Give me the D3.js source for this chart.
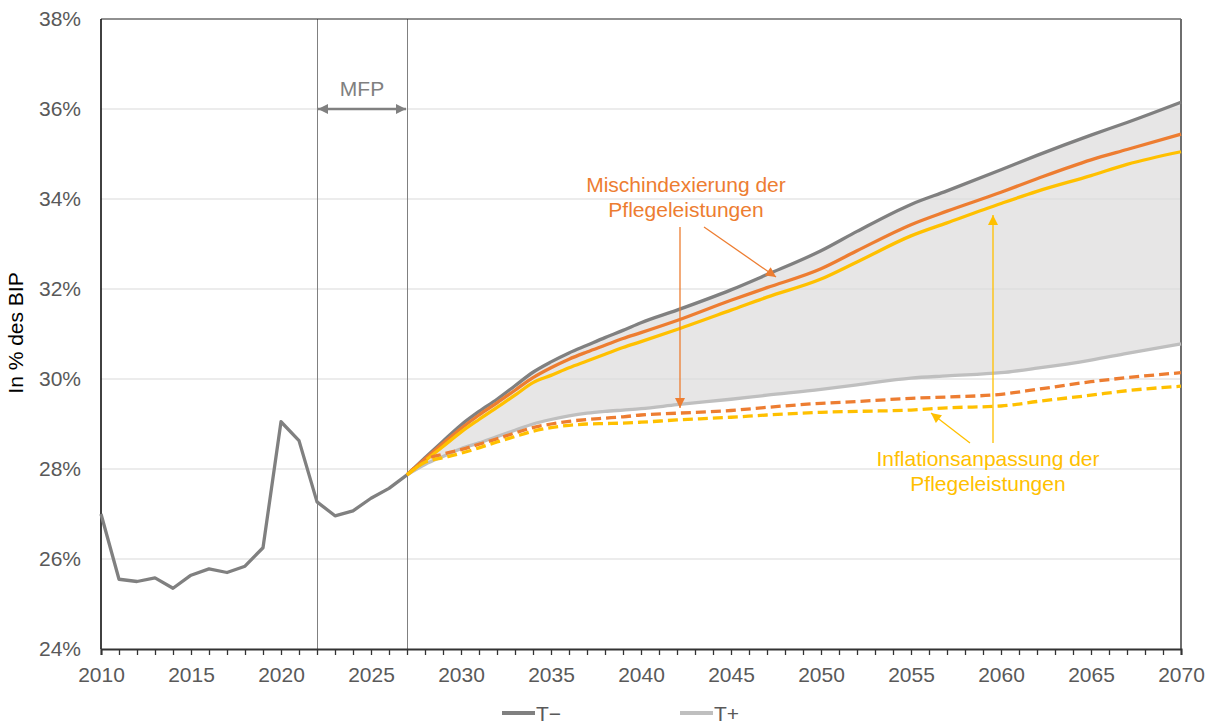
<!DOCTYPE html>
<html><head><meta charset="utf-8">
<script src="https://cdn.jsdelivr.net/npm/d3@7"></script>
<style>
html,body{margin:0;padding:0;background:#fff;}
svg{display:block;font-family:"Liberation Sans",Arial,sans-serif;}
</style></head>
<body><svg id="c" width="1214" height="724"></svg>
<script>
// ---- data ----
const histYears = [2010,2011,2012,2013,2014,2015,2016,2017,2018,2019,2020,2021,2022,2023,2024,2025,2026,2027];
const histValues = [27.0,25.55,25.5,25.58,25.35,25.64,25.78,25.7,25.84,26.25,29.05,28.63,27.27,26.96,27.07,27.35,27.57,27.87];

const projYears = [2027,2028,2029,2030,2031,2032,2033,2034,2035,2036,2037,2038,2039,2040,2042,2045,2047,2050,2052,2055,2057,2060,2062,2065,2067,2070];
const tMinus    = [27.87,28.25,28.62,28.98,29.28,29.55,29.85,30.15,30.38,30.58,30.75,30.92,31.08,31.25,31.53,31.98,32.32,32.85,33.28,33.88,34.18,34.65,34.97,35.42,35.7,36.15];
const tPlus     = [27.87,28.1,28.28,28.45,28.58,28.72,28.86,29.0,29.1,29.18,29.24,29.28,29.31,29.34,29.43,29.55,29.64,29.77,29.87,30.02,30.07,30.14,30.24,30.42,30.57,30.78];
const mixSolid  = [27.87,28.22,28.57,28.9,29.2,29.47,29.75,30.03,30.25,30.44,30.6,30.75,30.9,31.03,31.3,31.75,32.03,32.45,32.85,33.43,33.73,34.15,34.45,34.87,35.1,35.44];
const inflSolid = [27.87,28.18,28.5,28.82,29.1,29.37,29.64,29.92,30.08,30.25,30.4,30.55,30.7,30.83,31.1,31.53,31.82,32.22,32.6,33.18,33.47,33.9,34.17,34.52,34.77,35.05];
const mixDash   = [27.87,28.2,28.33,28.43,28.55,28.67,28.8,28.92,29.0,29.06,29.1,29.13,29.16,29.2,29.24,29.3,29.37,29.46,29.5,29.57,29.6,29.66,29.77,29.94,30.03,30.14];
const inflDash  = [27.87,28.15,28.25,28.35,28.47,28.6,28.72,28.84,28.92,28.97,29.0,29.01,29.02,29.04,29.09,29.15,29.2,29.26,29.28,29.31,29.36,29.4,29.5,29.64,29.74,29.84];

const yTicks = [24,26,28,30,32,34,36,38];
const xLabelYears = [2010,2015,2020,2025,2030,2035,2040,2045,2050,2055,2060,2065,2070];
const mfpYears = [2022,2027];
const legendItems = ["T\u2212","T+"];
const yTitle = "In % des BIP";
const annoMix = ["Mischindexierung der","Pflegeleistungen"];
const annoInfl = ["Inflationsanpassung der","Pflegeleistungen"];

// ---- chart ----
const svg = d3.select("#c");
const x = d3.scaleLinear().domain([2010,2070]).range([101,1181]);
const y = d3.scaleLinear().domain([24,38]).range([649,19]);
const C = {dark:"#808080", light:"#bfbfbf", orange:"#ed7d31", yellow:"#ffc000", fill:"#e7e6e6", grid:"#d9d9d9", text:"#595959"};
const FS = 21;

const defs = svg.append("defs");
function marker(id,color,w,h){
  defs.append("marker").attr("id",id).attr("viewBox","0 0 10 10").attr("refX",10).attr("refY",5)
    .attr("markerWidth",w).attr("markerHeight",h).attr("markerUnits","userSpaceOnUse").attr("orient","auto-start-reverse")
    .append("path").attr("d","M0,0L10,5L0,10Z").attr("fill",color);
}
marker("mg",C.dark,10,10);
marker("mo",C.orange,11,10);
marker("my",C.yellow,11,10);

// band fill
const band = projYears.map((yr,i)=>({yr,hi:tMinus[i],lo:tPlus[i]}));
svg.append("path").datum(band)
  .attr("d",d3.area().x(d=>x(d.yr)).y0(d=>y(d.lo)).y1(d=>y(d.hi)).curve(d3.curveMonotoneX))
  .attr("fill",C.fill);

// grid
svg.append("g").selectAll("line").data(yTicks.slice(1,-1)).join("line")
  .attr("x1",x(2010)).attr("x2",x(2070)).attr("y1",d=>y(d)).attr("y2",d=>y(d))
  .attr("stroke",C.grid).attr("stroke-width",1.2);

// MFP vertical lines
svg.append("g").selectAll("line").data(mfpYears).join("line")
  .attr("x1",d=>Math.round(x(d))+0.5).attr("x2",d=>Math.round(x(d))+0.5).attr("y1",y(38)).attr("y2",y(24))
  .attr("stroke",C.dark).attr("stroke-width",1);

// frame
svg.append("line").attr("x1",x(2010)).attr("x2",x(2070)).attr("y1",y(38)).attr("y2",y(38)).attr("stroke","#222").attr("stroke-width",1.2);
svg.append("line").attr("x1",x(2070)).attr("x2",x(2070)).attr("y1",y(38)).attr("y2",y(24)).attr("stroke","#6e6e6e").attr("stroke-width",2);
svg.append("line").attr("x1",x(2010)).attr("x2",x(2010)).attr("y1",y(38)).attr("y2",y(24)).attr("stroke","#111").attr("stroke-width",1.6);

// x axis
const xAxis = d3.axisBottom(x).tickValues(d3.range(2010,2071)).tickSize(6).tickPadding(12)
  .tickFormat(d=>xLabelYears.includes(d)?String(d):"");
const gx = svg.append("g").attr("transform",`translate(0,${y(24)})`).call(xAxis);
gx.select(".domain").attr("stroke","#333").attr("stroke-width",2);
gx.selectAll(".tick line").attr("stroke","#333").attr("stroke-width",1.3);
gx.selectAll(".tick text").attr("fill",C.text).attr("font-size",FS).attr("font-family","Liberation Sans, Arial, sans-serif");

// y labels
const yAxis = d3.axisLeft(y).tickValues(yTicks).tickSize(0).tickPadding(20).tickFormat(d=>d+"%");
const gy = svg.append("g").attr("transform",`translate(${x(2010)},0)`).call(yAxis);
gy.select(".domain").remove();
gy.selectAll(".tick text").attr("fill",C.text).attr("font-size",FS).attr("font-family","Liberation Sans, Arial, sans-serif");

// y title
svg.append("text").attr("transform",`translate(23,${333}) rotate(-90)`).attr("text-anchor","middle")
  .attr("font-size",FS).attr("fill","#000").text(yTitle);

// lines
const line = d3.line().x(d=>x(d[0])).y(d=>y(d[1]));
const smooth = d3.line().x(d=>x(d[0])).y(d=>y(d[1])).curve(d3.curveMonotoneX);
const zipP = arr => projYears.map((yr,i)=>[yr,arr[i]]);
const histPts = histYears.map((yr,i)=>[yr,histValues[i]]);
function draw(pts,color,dash,gen){
  svg.append("path").datum(pts).attr("d",gen||smooth).attr("fill","none").attr("stroke",color)
    .attr("stroke-width",3.3).attr("stroke-linejoin","round").attr("stroke-dasharray",dash||null);
}
draw(histPts,C.dark,null,line);
draw(zipP(tMinus),C.dark);
draw(zipP(tPlus),C.light);
draw(zipP(mixSolid),C.orange);
draw(zipP(inflSolid),C.yellow);
draw(zipP(mixDash),C.orange,"10 5");
draw(zipP(inflDash),C.yellow,"10 5");

// MFP arrow
svg.append("line").attr("x1",x(2022)+1).attr("x2",x(2027)-1).attr("y1",y(36)).attr("y2",y(36))
  .attr("stroke",C.dark).attr("stroke-width",2.5).attr("marker-start","url(#mg)").attr("marker-end","url(#mg)");
svg.append("text").attr("x",(x(2022)+x(2027))/2).attr("y",96).attr("text-anchor","middle")
  .attr("font-size",FS).attr("fill",C.dark).text("MFP");

// annotations
function anno(lines,cx,y0,color){
  svg.append("g").selectAll("text").data(lines).join("text")
    .attr("x",cx).attr("y",(d,i)=>y0+i*25).attr("text-anchor","middle").attr("font-size",FS).attr("fill",color).text(d=>d);
}
anno(annoMix,686,192,C.orange);
anno(annoInfl,988,466,C.yellow);
function arrow(x1,y1,x2,y2,color,m){
  svg.append("line").attr("x1",x1).attr("y1",y1).attr("x2",x2).attr("y2",y2)
    .attr("stroke",color).attr("stroke-width",1.3).attr("marker-end",`url(#${m})`);
}
arrow(680,227,680,408,C.orange,"mo");
arrow(704,227,776,277,C.orange,"mo");
arrow(993,443,993,215,C.yellow,"my");
arrow(970,443,931,413,C.yellow,"my");

// legend
const lg = svg.append("g");
const legX = [502,680];
const legC = [C.dark,C.light];
legendItems.forEach((t,i)=>{
  lg.append("line").attr("x1",legX[i]).attr("x2",legX[i]+33).attr("y1",713).attr("y2",713)
    .attr("stroke",legC[i]).attr("stroke-width",4);
  lg.append("text").attr("x",legX[i]+34).attr("y",721).attr("font-size",FS).attr("fill",C.text).text(t);
});
</script></body></html>
